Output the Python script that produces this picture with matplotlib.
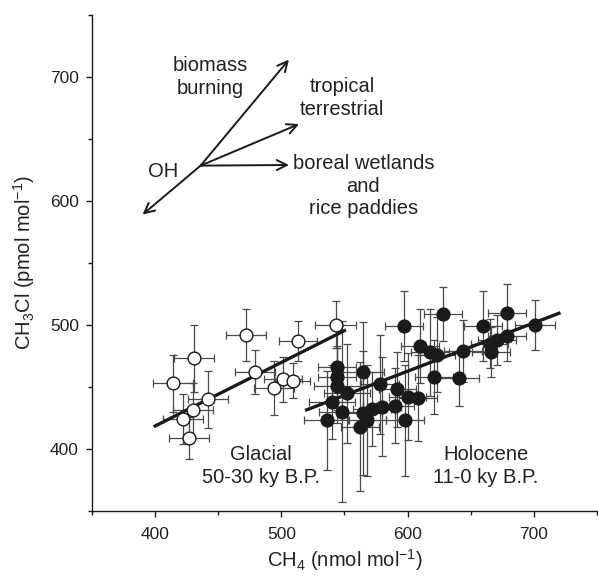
import numpy as np
import matplotlib
matplotlib.use("Agg")
import matplotlib.pyplot as plt

plt.rcParams.update({
    "font.family": ["Liberation Sans", "DejaVu Sans"],
    "mathtext.default": "regular",
    "font.size": 12.5,
})

# glacial samples (50-30 ky B.P.), open symbols
glac_ch4 = [414, 422, 427, 430, 431, 442, 472, 479, 494, 501, 509, 513, 543]
glac_ch3cl = [453, 424, 409, 431, 473, 440, 492, 462, 449, 456, 455, 487, 500]
glac_xerr = [16, 16, 16, 16, 16, 16, 16, 16, 16, 15, 14, 15, 16]
glac_yerr = [23, 20, 17, 22, 27, 23, 21, 18, 22, 18, 14, 16, 19]

# holocene samples (11-0 ky B.P.), filled symbols
holo_ch4 = [628, 597, 610, 618, 623, 621, 544, 544, 565, 544, 552, 540, 548, 536,
            578, 592, 600, 608, 590, 580, 572, 565, 568, 562, 598,
            679, 701, 660, 679, 671, 665, 666, 644, 641]
holo_ch3cl = [509, 499, 483, 478, 476, 458, 466, 458, 462, 451, 445, 438, 430, 423,
              452, 448, 442, 441, 435, 434, 432, 429, 423, 418, 423,
              510, 500, 499, 491, 488, 485, 478, 479, 457]
holo_xerr = [15, 15, 15, 15, 15, 15, 15, 15, 16, 18, 18, 18, 18, 18,
             15, 15, 15, 15, 15, 15, 15, 15, 15, 15, 15,
             15, 16, 15, 15, 15, 15, 15, 15, 16]
holo_yerr = [22, 28, 30, 35, 30, 30, 35, 25, 40, 30, 40, 30, 73, 40,
             40, 30, 35, 35, 30, 40, 30, 50, 45, 52, 45,
             23, 20, 28, 20, 20, 20, 20, 25, 22]

# regression lines (end points)
glac_fit_x = [400, 550]
glac_fit_y = [418.5, 495.4]
holo_fit_x = [520, 720]
holo_fit_y = [431.5, 509.4]

# source/sink vector diagram
oh_origin = (436, 628.5)
vec_heads = {"biomass": (506, 714), "tropical": (514, 662),
             "boreal": (506, 629), "OH": (390, 589)}

fig = plt.figure(figsize=(5.98, 5.76), dpi=100)
ax = fig.add_axes([0.154, 0.113, 0.844, 0.861])

ebar = dict(fmt="none", ecolor="#4a4a4a", elinewidth=0.9, capsize=2.6, capthick=0.9, zorder=2)
ax.errorbar(glac_ch4, glac_ch3cl, xerr=glac_xerr, yerr=glac_yerr, **ebar)
ax.errorbar(holo_ch4, holo_ch3cl, xerr=holo_xerr, yerr=holo_yerr, **ebar)

ax.plot(glac_fit_x, glac_fit_y, color="#1a1a1a", lw=2.4, zorder=3)
ax.plot(holo_fit_x, holo_fit_y, color="#1a1a1a", lw=2.4, zorder=3)

ax.plot(glac_ch4, glac_ch3cl, "o", ms=9.2, mfc="white", mec="#1a1a1a", mew=1.0, zorder=4)
ax.plot(holo_ch4, holo_ch3cl, "o", ms=9.2, mfc="#1a1a1a", mec="#1a1a1a", mew=1.0, zorder=5)

arr = dict(arrowstyle="->", color="#1a1a1a", lw=1.4, mutation_scale=18,
           shrinkA=0, shrinkB=0)
for k, head in vec_heads.items():
    ax.annotate("", xy=head, xytext=oh_origin, arrowprops=arr)

tkw = dict(fontsize=14.5, color="#222222", ha="center", va="center", linespacing=1.25)
ax.text(444, 700, "biomass\nburning", **tkw)
ax.text(548, 683, "tropical\nterrestrial", **tkw)
ax.text(565, 612, "boreal wetlands\nand\nrice paddies", **tkw)
ax.text(406, 624, "OH", **tkw)
ax.text(484, 386, "Glacial\n50-30 ky B.P.", **tkw)
ax.text(662, 386, "Holocene\n11-0 ky B.P.", **tkw)

ax.set_xlim(350, 750)
ax.set_ylim(350, 750)
ax.set_xticks([400, 500, 600, 700])
ax.set_xticks(np.arange(350, 751, 50), minor=True)
ax.set_yticks([400, 500, 600, 700])
ax.set_yticks(np.arange(350, 751, 50), minor=True)
ax.spines["top"].set_visible(False)
ax.spines["right"].set_visible(False)
for s in ("left", "bottom"):
    ax.spines[s].set_linewidth(1.0)
    ax.spines[s].set_color("#1a1a1a")
ax.tick_params(which="major", direction="out", length=4.5, width=1.0, colors="#1a1a1a",
               labelcolor="#222222", labelsize=12.5)
ax.tick_params(axis="x", which="major", pad=7)
ax.tick_params(axis="y", which="major", pad=5)
ax.tick_params(which="minor", direction="out", length=3, width=1.0, colors="#1a1a1a")

ax.set_xlabel("CH$_4$ (nmol mol$^{-1}$)", fontsize=14.5, color="#222222", labelpad=4)
ax.set_ylabel("CH$_3$Cl (pmol mol$^{-1}$)", fontsize=14.5, color="#222222", labelpad=9)

fig.savefig("out.png", dpi=100)
